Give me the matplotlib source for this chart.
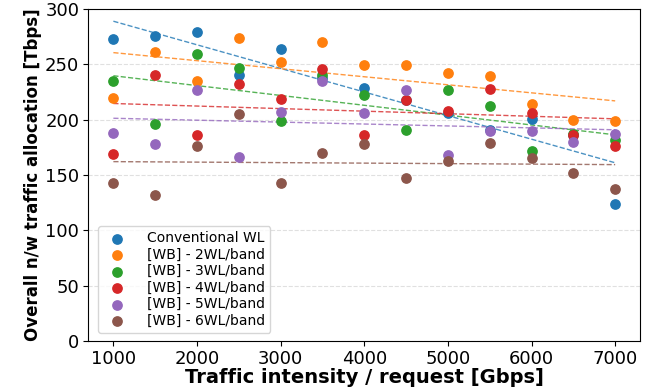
import numpy as np
import matplotlib
matplotlib.use("Agg")
import matplotlib.pyplot as plt

traffic = [1000, 1500, 2000, 2500, 3000, 3500, 4000, 4500, 5000, 5500, 6000, 6500, 7000]

conventional = [273, 276, 279, 240, 264, 238, 229, 218, 206, 191, 201, 186, 124]
wb_2wl = [220, 261, 235, 274, 252, 270, 249, 249, 242, 239, 214, 200, 199]
wb_3wl = [235, 196, 259, 247, 199, 240, 222, 191, 227, 212, 172, 187, 182]
wb_4wl = [169, 240, 186, 232, 219, 246, 186, 218, 208, 228, 206, 186, 176]
wb_5wl = [188, 178, 227, 166, 207, 235, 206, 227, 168, 190, 190, 180, 187]
wb_6wl = [143, 132, 176, 205, 143, 170, 178, 147, 163, 179, 165, 152, 137]

labels = [
    "Conventional WL",
    "[WB] - 2WL/band",
    "[WB] - 3WL/band",
    "[WB] - 4WL/band",
    "[WB] - 5WL/band",
    "[WB] - 6WL/band",
]
series = [conventional, wb_2wl, wb_3wl, wb_4wl, wb_5wl, wb_6wl]
colors = ["#1f77b4", "#ff7f0e", "#2ca02c", "#d62728", "#9467bd", "#8c564b"]

fig, ax = plt.subplots(figsize=(6.54, 3.89), dpi=100)
fig.subplots_adjust(left=0.135, right=0.979, top=0.977, bottom=0.123)

x = np.array(traffic)
for values, label, color in zip(series, labels, colors):
    ax.scatter(x, values, s=45, color=color, label=label, zorder=3)
    # linear trend line for each series
    slope, intercept = np.polyfit(x, values, 1)
    ax.plot(x, slope * x + intercept, "--", color=color, linewidth=1, alpha=0.8)

ax.set_ylim(0, 300)
ax.set_xticks([1000, 2000, 3000, 4000, 5000, 6000, 7000])
ax.tick_params(labelsize=13, pad=3)
ax.grid(axis="y", linestyle="--", color="lightgray", alpha=0.7)
ax.set_xlabel("Traffic intensity / request [Gbps]", fontsize=14, fontweight="bold", labelpad=0)
ax.set_ylabel("Overall n/w traffic allocation [Tbps]", fontsize=12, fontweight="bold", labelpad=2)
ax.legend(loc="lower left", fontsize=10, labelspacing=0.18, handletextpad=1.2,
          borderpad=0.35, bbox_to_anchor=(0.005, 0.005))

plt.savefig("out.png", dpi=100)
